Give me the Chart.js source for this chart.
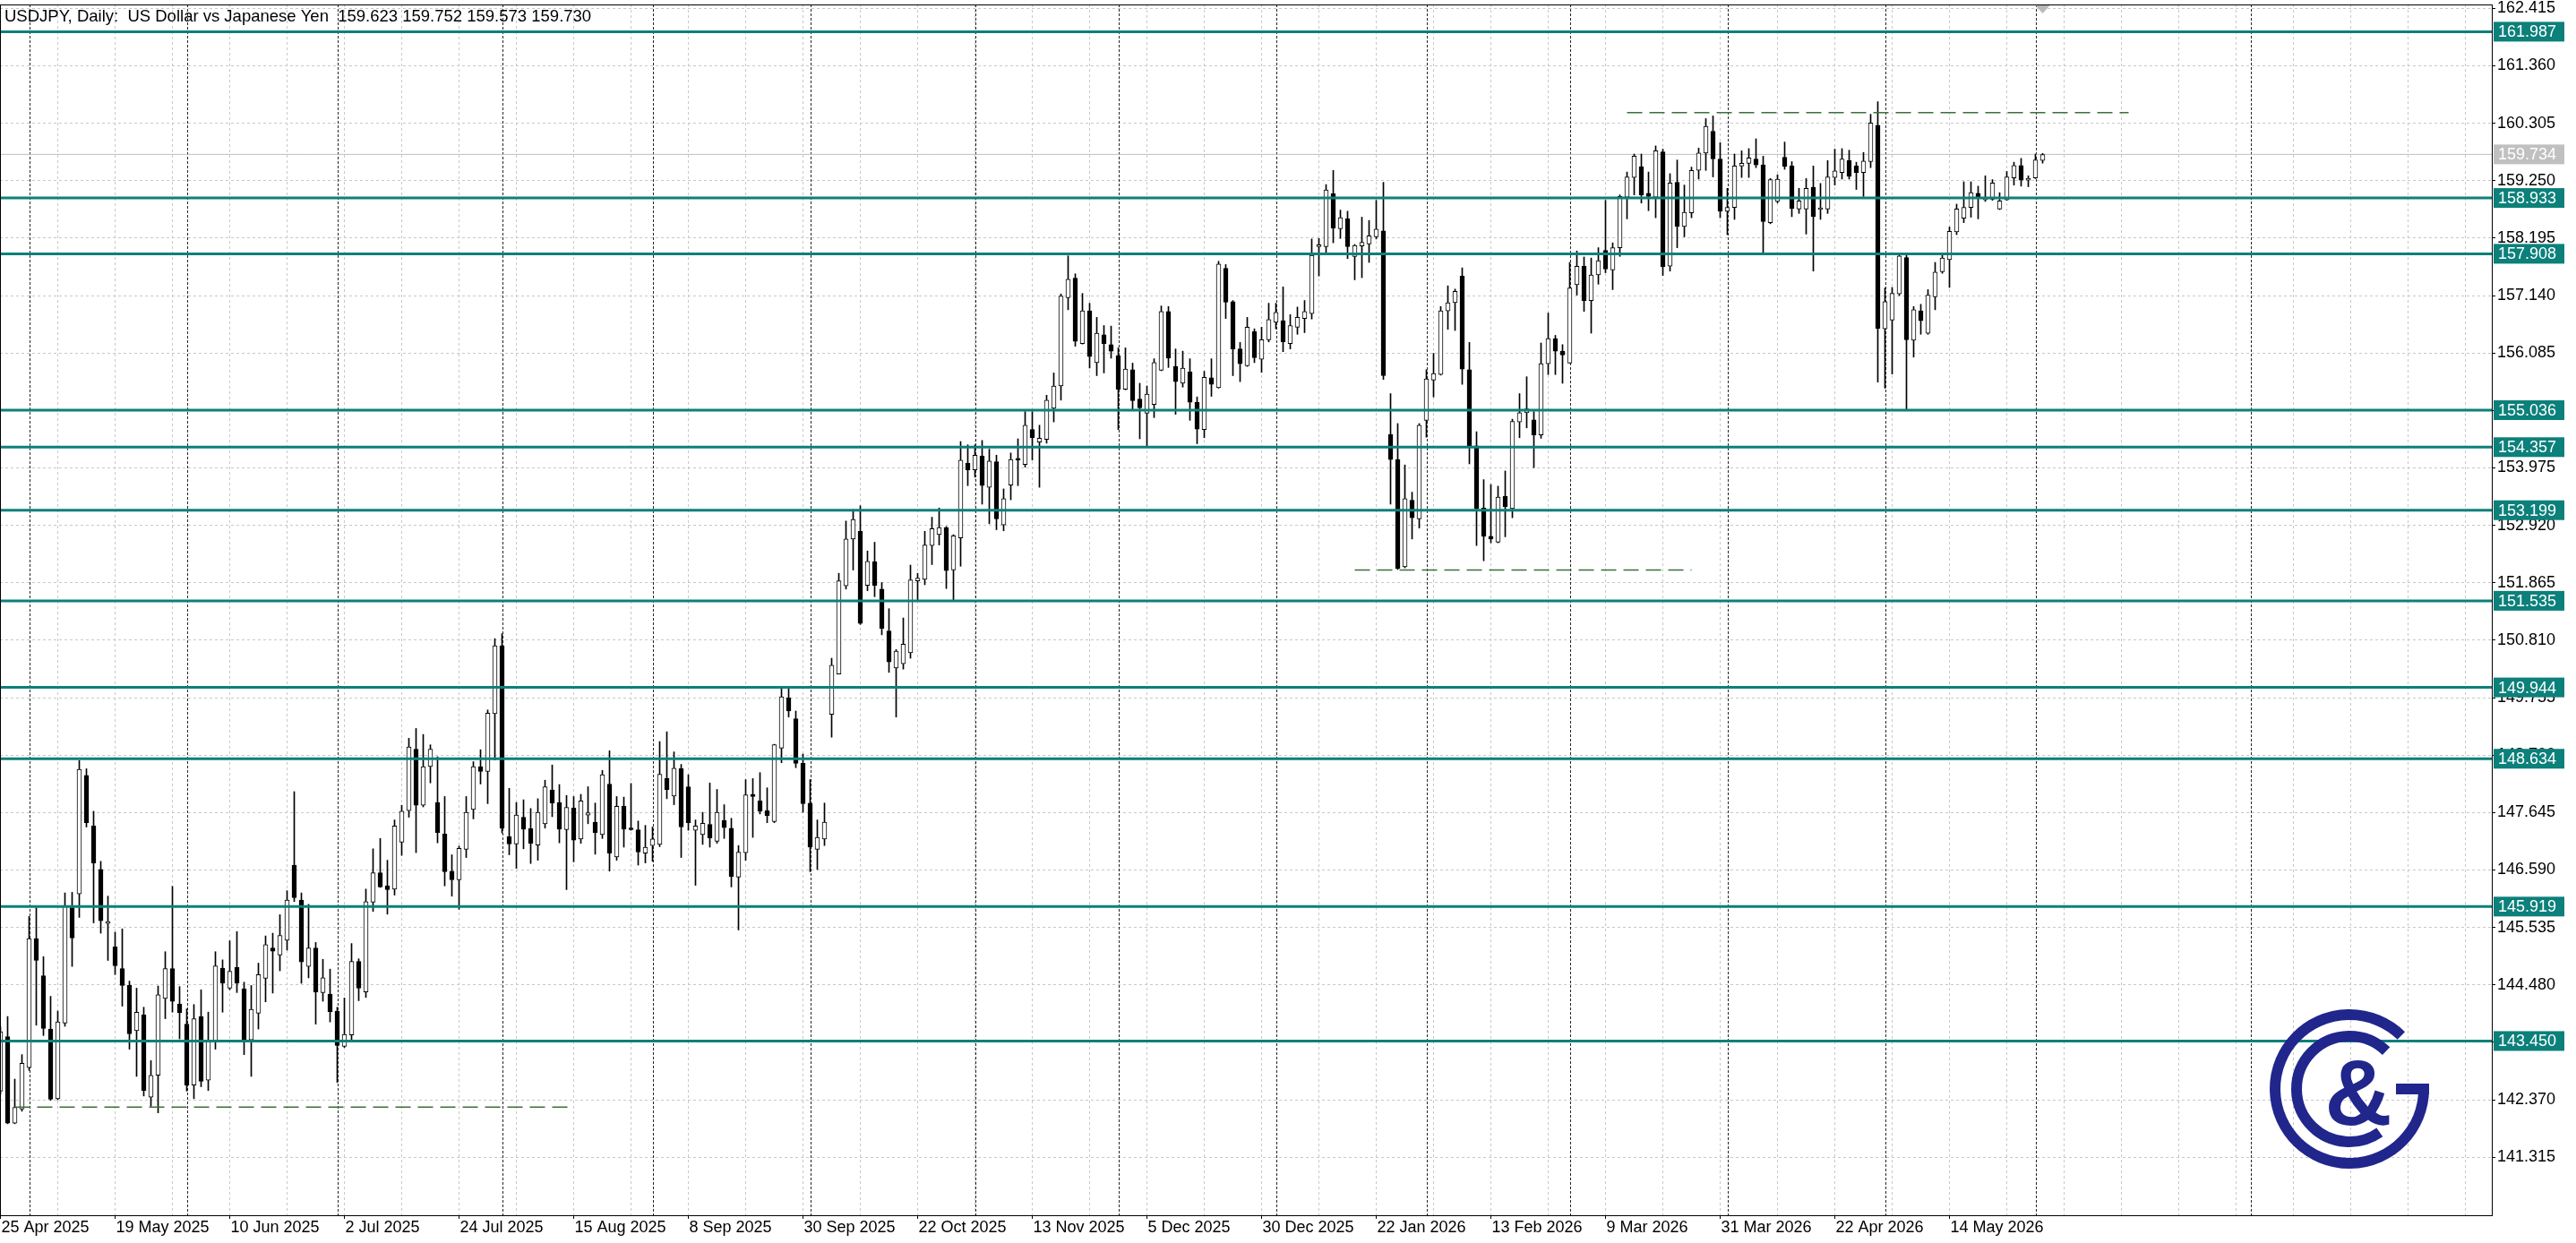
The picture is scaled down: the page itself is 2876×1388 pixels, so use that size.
<!DOCTYPE html>
<html>
<head>
<meta charset="utf-8">
<title>USDJPY Daily</title>
<script src="https://cdn.jsdelivr.net/npm/chart.js@4.4.0/dist/chart.umd.min.js"></script>
<style>
  html, body { margin: 0; padding: 0; background: #fff; overflow: hidden; }
  #wrap { width: 2876px; height: 1388px; }
</style>
</head>
<body>
<div id="wrap"><canvas id="grafico" width="2876" height="1388"></canvas></div>
<script>
// daily bars, index 0 = 25 Apr 2025
const OPEN = [
  142.53, 143.53, 141.94, 142.20, 142.96, 145.33, 144.65, 143.67, 142.39, 143.78,
  145.90, 146.15, 148.33, 147.40, 146.60, 145.61, 145.18, 144.78, 144.47, 143.64,
  143.93, 142.42, 142.82, 144.23, 144.78, 144.13, 143.76, 142.64, 143.90, 142.73,
  143.46, 144.79, 144.42, 144.80, 144.41, 143.47, 143.96, 144.60, 145.16, 145.03,
  145.30, 146.68, 146.04, 144.82, 145.16, 144.34, 144.31, 144.00, 143.35, 143.56,
  144.91, 144.35, 146.00, 146.54, 146.30, 146.24, 147.10, 147.68, 148.81, 147.78,
  148.49, 147.83, 147.25, 146.57, 146.41, 146.97, 147.70, 148.49, 148.40, 149.46,
  150.71, 147.20, 147.07, 147.56, 147.35, 147.05, 147.44, 148.06, 147.83, 147.33,
  147.73, 147.16, 147.60, 147.47, 147.24, 148.17, 146.83, 147.76, 147.35, 147.33,
  146.90, 147.04, 147.06, 148.27, 147.95, 148.45, 148.12, 147.32, 147.24, 147.43,
  147.12, 147.50, 147.36, 146.46, 146.91, 147.98, 147.86, 147.68, 147.48, 148.83,
  149.75, 149.37, 148.55, 147.82, 146.97, 147.16, 149.45, 150.19, 151.81, 152.67,
  152.81, 151.82, 152.25, 151.75, 150.98, 150.30, 150.38, 150.58, 151.90, 151.93,
  152.55, 152.75, 152.88, 152.10, 152.69, 154.06, 153.94, 154.19, 153.62, 154.09,
  152.93, 153.66, 154.13, 154.04, 154.68, 154.45, 154.50, 155.07, 155.48, 157.10,
  157.46, 156.26, 156.86, 155.91, 156.42, 156.24, 156.04, 155.42, 155.78, 155.24,
  154.98, 155.14, 155.77, 156.85, 155.84, 155.53, 155.74, 155.18, 154.68, 155.63,
  155.45, 157.64, 157.03, 156.16, 155.85, 156.48, 155.97, 156.33, 156.65, 156.68,
  156.26, 156.56, 156.72, 156.81, 158.04, 158.04, 159.01, 158.37, 158.55, 157.86,
  158.05, 158.09, 158.22, 158.33, 154.59, 154.13, 152.16, 153.38, 153.04, 154.85,
  155.59, 155.69, 156.86, 157.01, 157.50, 155.78, 154.38, 153.24, 152.72, 152.61,
  153.45, 153.23, 154.82, 154.99, 154.86, 154.58, 155.89, 156.35, 156.12, 155.90,
  157.34, 157.68, 157.05, 157.52, 157.97, 157.61, 158.02, 158.95, 159.31, 159.51,
  159.02, 158.95, 159.78, 157.68, 159.22, 158.41, 158.66, 159.44, 159.76, 160.16,
  159.65, 158.69, 158.76, 159.52, 159.57, 159.65, 159.54, 158.48, 158.87, 159.68,
  159.52, 158.73, 158.73, 159.13, 158.72, 158.73, 159.31, 159.40, 159.62, 159.52,
  159.40, 159.60, 160.27, 156.53, 156.69, 157.17, 157.84, 156.32, 156.86, 156.45,
  157.12, 157.58, 157.80, 158.31, 158.56, 158.76, 159.02, 158.90, 158.91, 158.73,
  158.90, 159.30, 159.53, 159.26, 159.30, 159.623
];
const HIGH = [
  143.71, 143.90, 142.75, 143.20, 145.74, 145.90, 145.00, 144.27, 144.00, 146.17,
  146.18, 148.60, 148.45, 147.67, 146.75, 146.11, 145.45, 145.51, 144.55, 144.42,
  144.07, 143.09, 144.46, 145.09, 146.29, 144.45, 144.04, 144.12, 144.39, 143.98,
  145.09, 144.94, 145.29, 145.46, 144.53, 144.47, 144.88, 145.38, 145.43, 145.77,
  146.21, 148.03, 146.17, 145.96, 145.26, 144.95, 144.77, 144.07, 144.24, 145.24,
  144.96, 146.24, 146.98, 147.17, 146.77, 147.51, 147.78, 149.01, 149.19, 149.08,
  148.89, 148.67, 147.94, 146.87, 147.03, 147.94, 148.58, 148.80, 149.53, 150.84,
  150.93, 148.09, 147.83, 147.88, 147.72, 147.90, 148.24, 148.52, 148.16, 147.96,
  147.94, 147.98, 148.12, 147.82, 148.42, 148.78, 147.94, 147.93, 148.18, 147.49,
  147.41, 147.38, 148.95, 149.13, 148.76, 148.53, 148.34, 147.51, 147.65, 148.19,
  148.07, 147.79, 147.54, 147.04, 148.25, 148.27, 148.38, 148.10, 148.90, 149.93,
  149.93, 149.51, 148.72, 148.25, 147.51, 147.82, 150.48, 152.04, 153.00, 153.21,
  153.28, 152.45, 152.61, 151.87, 151.39, 150.64, 151.22, 152.19, 152.04, 152.81,
  153.07, 153.24, 152.90, 152.75, 154.46, 154.40, 154.40, 154.48, 154.32, 154.21,
  153.59, 154.25, 154.51, 155.01, 155.01, 154.76, 155.31, 155.72, 157.17, 157.87,
  157.54, 157.18, 157.00, 156.74, 156.59, 156.58, 156.18, 156.18, 155.90, 155.53,
  155.48, 155.98, 156.95, 156.94, 156.16, 156.12, 155.98, 155.28, 155.75, 155.98,
  157.77, 157.71, 157.05, 156.28, 156.74, 156.53, 156.56, 157.00, 157.00, 157.30,
  156.79, 156.93, 157.05, 158.18, 158.19, 159.18, 159.44, 158.71, 158.69, 158.08,
  158.58, 158.52, 158.89, 159.22, 155.34, 154.79, 154.03, 153.53, 154.79, 155.78,
  156.08, 156.94, 157.32, 157.26, 157.65, 156.28, 154.64, 153.76, 153.67, 153.64,
  153.92, 154.87, 155.34, 155.65, 155.01, 156.27, 156.82, 156.41, 156.24, 157.75,
  157.96, 157.85, 157.83, 158.02, 158.89, 158.11, 158.99, 159.41, 159.74, 159.74,
  159.41, 159.89, 159.83, 159.38, 159.63, 159.17, 159.50, 159.85, 160.39, 160.44,
  159.95, 159.11, 159.74, 159.80, 159.84, 160.02, 159.70, 159.29, 159.36, 159.96,
  159.60, 159.11, 159.29, 159.52, 159.20, 159.62, 159.83, 159.84, 159.81, 159.59,
  159.77, 160.47, 160.70, 157.28, 157.29, 157.91, 157.92, 156.94, 156.98, 157.25,
  157.75, 157.90, 158.40, 158.82, 159.23, 159.23, 159.15, 159.34, 159.27, 159.03,
  159.42, 159.59, 159.66, 159.34, 159.74, 159.752
];
const LOW = [
  142.47, 141.93, 141.93, 142.16, 142.91, 143.74, 143.55, 142.36, 142.37, 143.72,
  144.82, 145.72, 147.38, 145.62, 145.43, 144.93, 144.67, 144.09, 143.30, 142.80,
  142.44, 142.25, 142.13, 143.86, 143.98, 143.49, 142.53, 142.39, 142.61, 142.54,
  143.30, 143.98, 144.39, 144.34, 143.20, 142.80, 143.67, 144.17, 144.33, 144.74,
  145.12, 146.01, 144.51, 144.61, 143.76, 144.18, 143.80, 142.69, 143.33, 143.45,
  144.19, 144.25, 145.83, 146.27, 145.78, 146.13, 146.86, 147.56, 146.91, 147.75,
  148.19, 147.09, 146.30, 146.11, 145.87, 146.82, 147.53, 148.17, 147.81, 148.61,
  147.27, 146.87, 146.62, 146.98, 146.71, 146.77, 147.36, 147.57, 147.09, 146.23,
  146.74, 147.08, 147.44, 146.88, 147.17, 146.57, 146.77, 147.01, 147.32, 146.68,
  146.72, 146.75, 147.02, 147.90, 147.79, 146.82, 147.32, 146.31, 147.06, 147.01,
  147.08, 147.17, 146.28, 145.49, 146.77, 147.19, 147.62, 147.46, 147.46, 148.56,
  149.40, 148.47, 147.65, 146.56, 146.60, 147.04, 149.03, 150.19, 151.75, 152.10,
  151.10, 151.72, 151.61, 150.91, 150.22, 149.40, 150.28, 150.48, 151.55, 151.83,
  152.20, 152.56, 151.76, 151.55, 152.17, 153.65, 153.81, 153.31, 152.95, 152.84,
  152.82, 153.39, 153.65, 153.99, 154.12, 153.62, 154.43, 154.82, 155.22, 156.88,
  156.21, 156.25, 155.81, 155.67, 155.72, 155.99, 154.68, 155.41, 155.05, 154.51,
  154.37, 154.90, 155.76, 155.82, 154.96, 155.46, 154.85, 154.42, 154.53, 155.29,
  155.44, 156.72, 155.67, 155.56, 155.84, 155.91, 155.73, 156.29, 156.53, 156.11,
  156.16, 156.43, 156.46, 156.71, 157.50, 157.91, 158.11, 158.19, 157.82, 157.43,
  157.47, 157.75, 158.18, 155.60, 153.31, 152.11, 152.14, 152.67, 152.87, 154.54,
  155.28, 155.68, 156.52, 156.50, 155.51, 154.05, 152.55, 152.27, 152.60, 152.60,
  152.71, 153.06, 154.53, 154.71, 153.98, 154.52, 155.69, 155.69, 155.53, 155.90,
  157.15, 156.85, 156.45, 157.35, 157.56, 157.25, 157.86, 158.55, 158.99, 158.84,
  158.70, 158.57, 157.51, 157.59, 158.02, 158.22, 158.57, 159.28, 159.44, 159.32,
  158.57, 158.26, 158.54, 159.31, 159.31, 159.49, 157.92, 158.46, 158.84, 159.46,
  158.59, 158.65, 158.27, 157.59, 158.54, 158.65, 159.17, 159.28, 159.28, 159.09,
  158.96, 159.49, 155.55, 155.44, 155.70, 157.14, 155.05, 156.01, 156.43, 156.43,
  156.88, 157.55, 157.29, 158.26, 158.48, 158.58, 158.55, 158.87, 158.89, 158.72,
  158.89, 159.17, 159.15, 159.14, 159.29, 159.573
];
const CLOSE = [
  143.62, 141.94, 142.23, 143.04, 145.33, 144.93, 143.68, 142.38, 143.80, 145.92,
  145.34, 148.44, 147.46, 146.72, 145.66, 145.64, 144.83, 144.47, 143.58, 143.98,
  142.54, 142.82, 144.30, 144.78, 144.18, 143.97, 142.64, 143.86, 142.71, 143.45,
  144.83, 144.51, 144.73, 144.51, 143.47, 144.03, 144.67, 145.22, 145.10, 145.39,
  146.04, 146.08, 144.90, 145.16, 144.35, 144.61, 143.99, 143.37, 143.57, 144.91,
  144.42, 146.01, 146.54, 146.28, 146.23, 147.40, 147.67, 148.85, 147.78, 148.49,
  148.81, 147.28, 146.56, 146.41, 146.99, 147.65, 148.49, 148.40, 149.47, 150.71,
  147.36, 147.07, 147.60, 147.34, 147.08, 147.65, 148.12, 147.82, 147.34, 147.74,
  147.14, 147.86, 147.64, 147.28, 148.34, 146.90, 147.76, 147.34, 147.33, 146.92,
  147.01, 147.16, 148.35, 148.07, 148.46, 147.38, 147.46, 147.40, 147.45, 147.18,
  147.65, 147.37, 146.47, 146.92, 147.97, 147.94, 147.67, 147.59, 148.89, 149.77,
  149.51, 148.55, 147.81, 147.01, 147.19, 147.47, 150.35, 151.90, 152.67, 153.03,
  151.12, 152.26, 151.82, 151.03, 150.41, 150.61, 150.74, 151.92, 151.95, 152.56,
  152.86, 152.88, 152.09, 152.73, 154.12, 153.94, 154.21, 153.65, 154.10, 153.04,
  153.41, 154.13, 154.12, 154.76, 154.53, 154.52, 155.22, 155.48, 157.13, 157.44,
  156.30, 156.86, 156.02, 156.45, 156.26, 156.12, 155.42, 155.79, 155.21, 155.08,
  155.33, 155.91, 156.85, 155.99, 155.56, 155.81, 155.18, 154.69, 155.64, 155.51,
  157.72, 157.02, 156.16, 155.89, 156.56, 156.00, 156.33, 156.70, 156.83, 156.29,
  156.59, 156.74, 156.85, 157.88, 158.05, 159.08, 158.38, 158.57, 158.04, 158.06,
  158.12, 158.24, 158.36, 155.67, 154.13, 152.13, 153.41, 153.06, 154.76, 155.61,
  155.71, 156.86, 157.01, 157.22, 155.79, 154.36, 153.23, 152.72, 152.67, 153.44,
  153.26, 154.83, 154.99, 155.06, 154.58, 155.89, 156.35, 156.12, 156.05, 157.28,
  157.68, 157.05, 157.52, 157.78, 157.63, 158.02, 158.96, 159.32, 159.70, 158.99,
  158.96, 159.80, 157.67, 159.21, 158.41, 158.67, 159.44, 159.76, 160.25, 159.65,
  158.69, 158.76, 159.52, 159.57, 159.67, 159.54, 158.50, 159.27, 159.28, 159.51,
  158.74, 158.88, 159.11, 158.59, 158.75, 159.32, 159.43, 159.65, 159.33, 159.40,
  159.61, 160.31, 156.54, 157.03, 157.18, 157.87, 156.33, 156.88, 156.68, 157.15,
  157.57, 157.83, 158.32, 158.73, 158.76, 159.03, 158.93, 158.94, 159.21, 158.88,
  159.32, 159.53, 159.26, 159.29, 159.63, 159.730
];

// bottom axis: one label every 16 bars
const X_LABELS = ['25 Apr 2025', '19 May 2025', '10 Jun 2025', '2 Jul 2025', '24 Jul 2025', '15 Aug 2025',
  '8 Sep 2025', '30 Sep 2025', '22 Oct 2025', '13 Nov 2025', '5 Dec 2025', '30 Dec 2025',
  '22 Jan 2026', '13 Feb 2026', '9 Mar 2026', '31 Mar 2026', '22 Apr 2026', '14 May 2026'];
// first bar of each month (period separators), the last one sits in the empty future area
const MONTH_STARTS = [4, 26, 47, 70, 91, 113, 136, 156, 178, 199, 219, 241, 263, 284, 314];

const Y_TICKS = [141.315, 142.370, 143.425, 144.480, 145.535, 146.590, 147.645, 148.700, 149.755, 150.810,
  151.865, 152.920, 153.975, 155.030, 156.085, 157.140, 158.195, 159.250, 160.305, 161.360, 162.415];

// horizontal levels drawn by hand on the chart
const LEVELS = [161.987, 158.933, 157.908, 155.036, 154.357, 153.199, 151.535, 149.944, 148.634, 145.919, 143.450];
const DASH_PRICE = [160.50, 152.10, 142.235];
const DASH_FROM = [227, 189, 2];
const DASH_TO = [297, 236, 80];
const BID = 159.734;

const TEAL = 'rgb(12,128,122)';
const GRID = 'rgb(200,200,200)';
const NAVY = 'rgb(32,38,140)';
const FONT = "'Liberation Sans', Arial, sans-serif";

const Y_MIN = 140.250, Y_MAX = 162.487;
const X_MIN = -0.0625, X_MAX = 347.6875;

Chart.defaults.font.family = FONT;
Chart.defaults.font.size = 18;
Chart.defaults.color = '#000';

const mechas = LOW.map((l, i) => ({ x: i, y: [l, HIGH[i]] }));
const cuerpos = OPEN.map((o, i) => ({ x: i, y: [o, CLOSE[i]] }));

const hLine = (price, from, to) => [{ x: from, y: price }, { x: to, y: price }];

const datasets = [
  {
    type: 'line', data: hLine(BID, X_MIN, X_MAX), borderColor: 'rgb(192,192,192)',
    borderWidth: 1, pointRadius: 0, order: 5
  },
  {
    type: 'bar', data: mechas, barThickness: 1, backgroundColor: '#000',
    borderWidth: 0, grouped: false, order: 4
  },
  {
    type: 'bar', data: cuerpos, barThickness: 5, grouped: false, order: 3,
    backgroundColor: (c) => CLOSE[c.dataIndex] >= OPEN[c.dataIndex] ? '#fff' : '#000',
    borderColor: '#000', borderWidth: 1, borderSkipped: false, minBarLength: 2
  }
];
DASH_PRICE.forEach((p, k) => {
  datasets.push({
    type: 'line', data: hLine(p, DASH_FROM[k], DASH_TO[k]), borderColor: 'rgb(60,110,60)',
    borderWidth: 1.5, borderDash: [17, 8], pointRadius: 0, order: 1
  });
});
LEVELS.forEach((p) => {
  datasets.push({
    type: 'line', data: hLine(p, X_MIN, X_MAX), borderColor: TEAL,
    borderWidth: 3, pointRadius: 0, order: 0
  });
});

function drawLogo(c, cx, cy) {
  c.save();
  c.strokeStyle = NAVY;
  c.fillStyle = NAVY;
  c.lineWidth = 12;
  c.beginPath();
  c.arc(cx, cy, 83, -0.8, 0, true);
  c.stroke();
  c.fillRect(cx + 52, cy - 6, 37, 12);
  c.beginPath();
  c.arc(cx, cy, 59, -0.8, 0.96, true);
  c.stroke();
  c.font = 'bold 104px ' + FONT;
  c.textAlign = 'center';
  c.textBaseline = 'alphabetic';
  c.fillText('&', cx + 10, cy + 40);
  c.restore();
}

const extras = {
  id: 'extras',
  beforeDatasetsDraw(chart) {
    const { ctx, chartArea: a, scales: { x } } = chart;
    ctx.save();
    ctx.strokeStyle = 'rgba(0,0,0,0.85)';
    ctx.lineWidth = 1;
    ctx.setLineDash([3, 2]);
    MONTH_STARTS.forEach((i) => {
      const px = Math.round(x.getPixelForValue(i)) + 0.5;
      ctx.beginPath();
      ctx.moveTo(px, a.top);
      ctx.lineTo(px, a.bottom);
      ctx.stroke();
    });
    ctx.restore();
  },
  afterDraw(chart) {
    const { ctx, chartArea: a, scales: { x, y } } = chart;
    ctx.save();
    // marco
    ctx.strokeStyle = '#000';
    ctx.lineWidth = 1;
    ctx.strokeRect(a.left + 0.5, a.top + 0.5, a.right - a.left, a.bottom - a.top);

    ctx.font = '18px ' + FONT;
    ctx.textBaseline = 'middle';
    ctx.textAlign = 'left';
    // etiquetas de niveles
    LEVELS.forEach((p) => {
      const py = y.getPixelForValue(p);
      ctx.fillStyle = TEAL;
      ctx.fillRect(a.right + 2, py - 11, 79, 22);
      ctx.fillStyle = '#fff';
      ctx.fillText(p.toFixed(3), a.right + 7, py + 1);
    });
    const by = y.getPixelForValue(BID);
    ctx.fillStyle = 'rgb(192,192,192)';
    ctx.fillRect(a.right + 2, by - 11, 79, 22);
    ctx.fillStyle = '#fff';
    ctx.fillText(BID.toFixed(3), a.right + 7, by + 1);

    // marcador de desplazamiento
    const sx = x.getPixelForValue(OPEN.length - 1);
    ctx.fillStyle = 'rgb(185,185,185)';
    ctx.beginPath();
    ctx.moveTo(sx - 8, a.top + 1);
    ctx.lineTo(sx + 8, a.top + 1);
    ctx.lineTo(sx, a.top + 10);
    ctx.closePath();
    ctx.fill();

    // titulo
    ctx.fillStyle = '#000';
    ctx.font = '18.5px ' + FONT;
    ctx.fillText('USDJPY, Daily:  US Dollar vs Japanese Yen  159.623 159.752 159.573 159.730', 5, 19);

    drawLogo(ctx, 2623, 1216);
    ctx.restore();
  }
};

new Chart(document.getElementById('grafico'), {
  type: 'bar',
  data: { datasets },
  options: {
    responsive: false,
    animation: false,
    devicePixelRatio: 1,
    events: [],
    layout: { padding: { top: 5, left: 0, right: 0, bottom: 0 } },
    plugins: { legend: { display: false }, tooltip: { enabled: false } },
    scales: {
      x: {
        type: 'linear',
        min: X_MIN,
        max: X_MAX,
        offset: false,
        afterBuildTicks: (s) => {
          const t = [];
          for (let v = 0; v <= 344; v += 8) t.push({ value: v });
          s.ticks = t;
        },
        afterFit: (s) => {
          s.height = 31;
          s.paddingLeft = 0; s.paddingRight = 0; s.paddingTop = 0; s.paddingBottom = 0;
        },
        grid: {
          offset: false,
          color: GRID,
          lineWidth: 1,
          tickLength: 4,
          tickColor: (c) => (c.tick && c.tick.value % 16 === 0 && c.tick.value < OPEN.length) ? '#000' : 'rgba(0,0,0,0)'
        },
        border: { display: false, dash: [3, 3] },
        ticks: {
          autoSkip: false,
          maxRotation: 0,
          minRotation: 0,
          align: 'start',
          padding: -1,
          labelOffset: 1,
          callback: (v) => (v % 16 === 0 && v < OPEN.length) ? X_LABELS[v / 16] : ''
        }
      },
      y: {
        position: 'right',
        min: Y_MIN,
        max: Y_MAX,
        beginAtZero: false,
        afterBuildTicks: (s) => { s.ticks = Y_TICKS.map((v) => ({ value: v })); },
        afterFit: (s) => {
          s.width = 94;
          s.paddingLeft = 0; s.paddingRight = 0; s.paddingTop = 0; s.paddingBottom = 0;
        },
        grid: { color: GRID, lineWidth: 1, tickLength: 4, tickColor: '#000' },
        border: { display: false, dash: [3, 3] },
        ticks: { padding: 2, callback: (v) => Number(v).toFixed(3) }
      }
    }
  },
  plugins: [extras]
});
</script>
</body>
</html>
